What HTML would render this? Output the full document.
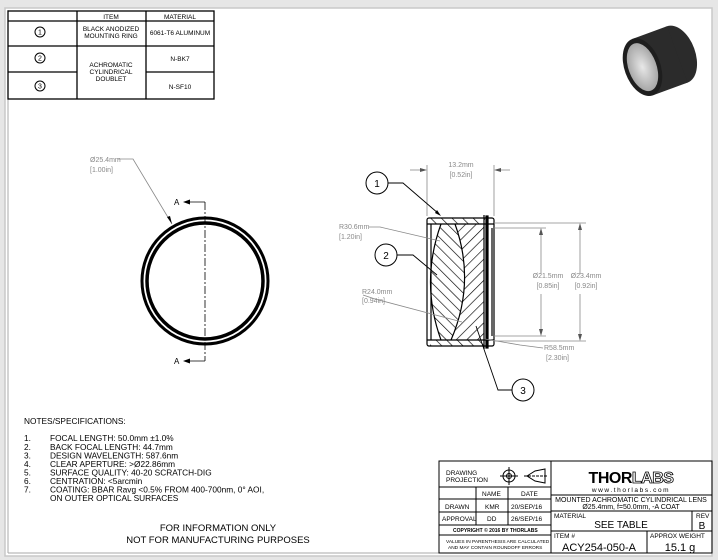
<!DOCTYPE html>
<html><head><meta charset="utf-8"><style>
html,body{margin:0;padding:0;background:#e6e6e6;}
svg{display:block;font-family:"Liberation Sans",sans-serif;}
</style></head><body>
<svg width="718" height="560" viewBox="0 0 718 560" xmlns="http://www.w3.org/2000/svg">
<defs>
<pattern id="h1" patternUnits="userSpaceOnUse" width="7.5" height="7.5" patternTransform="rotate(45)"><line x1="0" y1="0" x2="0" y2="7.5" stroke="#000" stroke-width="1.3"/></pattern>
<pattern id="h2" patternUnits="userSpaceOnUse" width="7.5" height="7.5" patternTransform="rotate(-45)"><line x1="0" y1="0" x2="0" y2="7.5" stroke="#000" stroke-width="1.3"/></pattern>
<radialGradient id="gl" cx="0.5" cy="0.5" r="0.6"><stop offset="0" stop-color="#e8e8e8"/><stop offset="1" stop-color="#9a9a9a"/></radialGradient>
</defs>
<rect x="0" y="0" width="718" height="560" fill="#e6e6e6"/>
<rect x="5" y="8" width="707" height="548" fill="#fff" stroke="#c8c8c8" stroke-width="1.5"/>
<line x1="8" y1="10" x2="8" y2="553" stroke="#aaa"/>
<line x1="8" y1="553" x2="712" y2="553" stroke="#aaa"/>

<g stroke="#000" stroke-width="1.3" fill="none">
<rect x="8" y="11" width="206" height="88"/>
<line x1="77" y1="11" x2="77" y2="99"/>
<line x1="146" y1="11" x2="146" y2="99"/>
<line x1="8" y1="21" x2="214" y2="21"/>
<line x1="8" y1="46" x2="214" y2="46"/>
<line x1="8" y1="72" x2="77" y2="72"/>
<line x1="146" y1="72" x2="214" y2="72"/>
<circle cx="40" cy="32" r="5" stroke-width="1"/>
<circle cx="40" cy="58" r="5" stroke-width="1"/>
<circle cx="40" cy="86" r="5" stroke-width="1"/>
</g>
<g font-size="6.5" text-anchor="middle" fill="#000">
<text x="40" y="34.5" font-size="7">1</text><text x="40" y="60.5" font-size="7">2</text><text x="40" y="88.5" font-size="7">3</text>
<text x="111" y="19">ITEM</text><text x="180" y="19">MATERIAL</text>
<text x="111" y="31">BLACK ANODIZED</text><text x="111" y="38">MOUNTING RING</text>
<text x="180" y="35">6061-T6 ALUMINUM</text>
<text x="111" y="67">ACHROMATIC</text><text x="111" y="74">CYLINDRICAL</text><text x="111" y="81">DOUBLET</text>
<text x="180" y="61">N-BK7</text><text x="180" y="89">N-SF10</text>
</g>

<g transform="rotate(-20 663 65)">
<ellipse cx="680" cy="60" rx="18" ry="30" fill="#2b2b2b"/>
<rect x="643" y="30" width="37" height="60" fill="#2b2b2b"/>
<ellipse cx="643" cy="60" rx="18" ry="30" fill="#1e1e1e"/>
<ellipse cx="643" cy="60" rx="14" ry="25" fill="url(#gl)"/>
</g>

<circle cx="205" cy="281" r="63" fill="none" stroke="#000" stroke-width="3"/>
<circle cx="205" cy="281" r="58" fill="none" stroke="#000" stroke-width="3.5"/>
<line x1="205" y1="202" x2="205" y2="361" stroke="#000" stroke-width="0.8" stroke-dasharray="8,2,2,2"/>
<line x1="205" y1="202" x2="187" y2="202" stroke="#000" stroke-width="0.8"/>
<line x1="205" y1="361" x2="187" y2="361" stroke="#000" stroke-width="0.8"/>
<polygon points="183,202 190,199.5 190,204.5" fill="#000"/>
<polygon points="183,361 190,358.5 190,363.5" fill="#000"/>
<text x="174" y="205" font-size="8">A</text><text x="174" y="364" font-size="8">A</text>
<text x="90" y="162" font-size="7" fill="#888">Ø25.4mm</text>
<text x="90" y="172" font-size="7" fill="#888">[1.00in]</text>
<polyline points="118,159 133,159 172,224" fill="none" stroke="#888" stroke-width="0.8"/>
<polygon points="172,224 167,217 170,216" fill="#000"/>

<g>
<path d="M441,224 Q420,282 441,340 L451,340 Q476,282 455,224 Z" fill="url(#h2)"/>
<path d="M455,224 Q476,282 451,340 L484,340 L484,224 Z" fill="url(#h1)"/>
<rect x="430" y="218" width="55" height="6" fill="url(#h2)"/>
<rect x="430" y="340" width="55" height="6" fill="url(#h2)"/>
<g stroke="#000" fill="none" stroke-width="1.2">
<rect x="427" y="218" width="67" height="128" rx="2"/>
<line x1="427" y1="224" x2="494" y2="224"/>
<line x1="427" y1="340" x2="494" y2="340"/>
<line x1="431" y1="224" x2="431" y2="340"/>
<path d="M441,224 Q420,282 441,340"/>
<path d="M455,224 Q476,282 451,340"/>
<line x1="484" y1="215" x2="484" y2="349"/>
<rect x="486" y="216" width="2" height="132" fill="#000"/>
<line x1="492" y1="228" x2="492" y2="336"/>
</g>
</g>
<g stroke="#888" stroke-width="0.8" fill="none">
<line x1="427" y1="165" x2="427" y2="216"/><line x1="494" y1="165" x2="494" y2="216"/>
<line x1="410" y1="170" x2="425" y2="170"/><line x1="496" y1="170" x2="510" y2="170"/>
<line x1="494" y1="223" x2="586" y2="223"/><line x1="494" y1="341" x2="586" y2="341"/>
<line x1="494" y1="228" x2="546" y2="228"/><line x1="494" y1="336" x2="546" y2="336"/>
<line x1="541" y1="230" x2="541" y2="274"/><line x1="541" y1="294" x2="541" y2="334"/>
<line x1="580" y1="225" x2="580" y2="274"/><line x1="580" y1="294" x2="580" y2="339"/>
<polyline points="369,227 380,227 440,241"/>
<polyline points="363,295 375,299 462,322"/>
<polyline points="485,339 520,345 543,348"/>
</g>
<g fill="#555">
<polygon points="427,170 420,168 420,172"/><polygon points="494,170 501,168 501,172"/>
<polygon points="541,228 539,235 543,235"/><polygon points="541,336 539,329 543,329"/>
<polygon points="580,223 578,230 582,230"/><polygon points="580,341 578,334 582,334"/>
</g>
<g font-size="7" fill="#888" text-anchor="middle">
<text x="461" y="167">13.2mm</text><text x="461" y="177">[0.52in]</text>
<text x="548" y="278">Ø21.5mm</text><text x="548" y="288">[0.85in]</text>
<text x="586" y="278">Ø23.4mm</text><text x="586" y="288">[0.92in]</text>
</g>
<g font-size="7" fill="#888">
<text x="339" y="229">R30.6mm</text><text x="339" y="239">[1.20in]</text>
<text x="362" y="294">R24.0mm</text><text x="362" y="303">[0.94in]</text>
<text x="544" y="350">R58.5mm</text><text x="546" y="360">[2.30in]</text>
</g>
<g stroke="#000" stroke-width="1" fill="#fff">
<circle cx="377" cy="183" r="11"/><circle cx="386" cy="255" r="11"/><circle cx="523" cy="390" r="11"/>
</g>
<g stroke="#000" stroke-width="0.9" fill="none">
<polyline points="388,183 403,183 439,214"/>
<polyline points="397,255 413,255 437,275"/>
<polyline points="512,390 498,390 476,326"/>
</g>
<polygon points="441,216 435,213 437,210" fill="#000"/>
<g font-size="10" text-anchor="middle"><text x="377" y="187">1</text><text x="386" y="259">2</text><text x="523" y="394">3</text></g>

<g font-size="8.3" fill="#000">
<text x="24" y="424">NOTES/SPECIFICATIONS:</text>
<text x="24" y="441">1.</text><text x="50" y="441">FOCAL LENGTH: 50.0mm ±1.0%</text>
<text x="24" y="450">2.</text><text x="50" y="450">BACK FOCAL LENGTH: 44.7mm</text>
<text x="24" y="458.5">3.</text><text x="50" y="458.5">DESIGN WAVELENGTH: 587.6nm</text>
<text x="24" y="467">4.</text><text x="50" y="467">CLEAR APERTURE: &gt;Ø22.86mm</text>
<text x="24" y="475.5">5.</text><text x="50" y="475.5">SURFACE QUALITY: 40-20 SCRATCH-DIG</text>
<text x="24" y="484">6.</text><text x="50" y="484">CENTRATION: &lt;5arcmin</text>
<text x="24" y="492.5">7.</text><text x="50" y="492.5">COATING: BBAR Ravg &lt;0.5% FROM 400-700nm, 0° AOI,</text>
<text x="50" y="501">ON OUTER OPTICAL SURFACES</text>
</g>
<g font-size="9.5" text-anchor="middle"><text x="218" y="531">FOR INFORMATION ONLY</text><text x="218" y="543">NOT FOR MANUFACTURING PURPOSES</text></g>

<g stroke="#000" stroke-width="1" fill="none">
<rect x="439" y="461" width="273" height="92"/>
<line x1="551" y1="461" x2="551" y2="553"/>
<line x1="439" y1="487" x2="551" y2="487"/>
<line x1="439" y1="499" x2="551" y2="499"/>
<line x1="439" y1="512" x2="551" y2="512"/>
<line x1="439" y1="525" x2="551" y2="525"/>
<line x1="439" y1="535" x2="551" y2="535"/>
<line x1="476" y1="487" x2="476" y2="525"/>
<line x1="508" y1="487" x2="508" y2="525"/>
<line x1="551" y1="495" x2="712" y2="495"/>
<line x1="551" y1="511" x2="712" y2="511"/>
<line x1="551" y1="531" x2="712" y2="531"/>
<line x1="692" y1="511" x2="692" y2="531"/>
<line x1="647" y1="531" x2="647" y2="553"/>
<circle cx="509" cy="476" r="6"/><circle cx="509" cy="476" r="2.5"/>
<line x1="500" y1="476" x2="518" y2="476"/><line x1="509" y1="467" x2="509" y2="485"/>
<polygon points="527,476 535,471 545,469 545,483 535,481"/>
<line x1="524" y1="476" x2="547" y2="476" stroke-dasharray="3,1"/>
</g>
<g font-size="6.5" fill="#000">
<text x="446" y="475">DRAWING</text><text x="446" y="482">PROJECTION</text>
<text x="482" y="496">NAME</text><text x="521" y="496">DATE</text>
<text x="445" y="509">DRAWN</text><text x="485" y="509">KMR</text><text x="511" y="509">20/SEP/16</text>
<text x="442" y="521">APPROVAL</text><text x="487" y="521">DD</text><text x="511" y="521">26/SEP/16</text>
<text x="453" y="532" font-size="5" font-weight="bold">COPYRIGHT © 2016 BY THORLABS</text>
<text x="446" y="543" font-size="4.8">VALUES IN PARENTHESIS ARE CALCULATED</text>
<text x="448" y="549" font-size="4.8">AND MAY CONTAIN ROUNDOFF ERRORS</text>
<text x="554" y="518">MATERIAL</text><text x="696" y="518">REV</text>
<text x="554" y="538">ITEM #</text><text x="650" y="538">APPROX WEIGHT</text>
</g>
<text x="631" y="483" font-size="16" font-weight="bold" text-anchor="middle" letter-spacing="-0.5">THOR<tspan fill="#fff" stroke="#000" stroke-width="0.8">LABS</tspan></text>
<text x="631" y="492" font-size="6.5" text-anchor="middle" letter-spacing="1.6">www.thorlabs.com</text>
<text x="631" y="502" font-size="7" text-anchor="middle">MOUNTED ACHROMATIC CYLINDRICAL LENS</text>
<text x="631" y="509" font-size="7" text-anchor="middle">Ø25.4mm, f=50.0mm, -A COAT</text>
<text x="621" y="528" font-size="10" text-anchor="middle">SEE TABLE</text>
<text x="702" y="529" font-size="10" text-anchor="middle">B</text>
<text x="599" y="551" font-size="11" text-anchor="middle">ACY254-050-A</text>
<text x="680" y="551" font-size="11" text-anchor="middle">15.1 g</text>
</svg>
</body></html>
